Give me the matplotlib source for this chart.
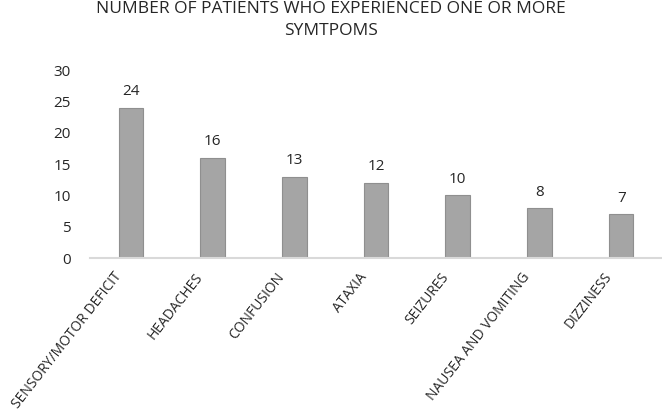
import matplotlib
matplotlib.use('agg')
import matplotlib.pyplot as plt
import matplotlib.transforms as mtransforms

symptoms = ["SENSORY/MOTOR DEFICIT", "HEADACHES", "CONFUSION", "ATAXIA",
            "SEIZURES", "NAUSEA AND VOMITING", "DIZZINESS"]
patients = [24, 16, 13, 12, 10, 8, 7]
yticks = [0, 5, 10, 15, 20, 25, 30]

plt.rcParams['font.family'] = ['Open Sans', 'DejaVu Sans']

fig = plt.figure(figsize=(6.62, 4.15), dpi=100)
ax = fig.add_axes([90 / 662, 157 / 415, 572 / 662, 188 / 415])

x = range(len(symptoms))
bars = ax.bar(x, patients, width=0.3, color='#a5a5a5', edgecolor='#8f8f8f',
              linewidth=0.8, zorder=2)
for xi, v in zip(x, patients):
    ax.annotate(str(v), (xi, v), xytext=(0, 6), textcoords='offset points',
                ha='center', va='bottom', fontsize=11, color='#262626')

ax.set_xlim(-0.5, len(symptoms) - 0.5)
ax.set_ylim(0, 30)
ax.set_yticks(yticks)
ax.tick_params(axis='y', length=0, pad=14, labelsize=11, labelcolor='#262626')
ax.set_xticks(list(x))
ax.set_xticklabels(symptoms, rotation=52, ha='right', va='top',
                   rotation_mode='anchor', fontsize=10, color='#262626')
ax.tick_params(axis='x', length=0, pad=2)
# shift labels left/down so their ends sit like Excel's
offset = mtransforms.ScaledTranslation(-18 / 100, -9 / 100, fig.dpi_scale_trans)
for lab in ax.get_xticklabels():
    lab.set_transform(lab.get_transform() + offset)

for s in ['top', 'right', 'left']:
    ax.spines[s].set_visible(False)
ax.spines['bottom'].set_color('#d9d9d9')
ax.spines['bottom'].set_linewidth(1.5)

fig.text(0.5, 1 - 20 / 415, "NUMBER OF PATIENTS WHO EXPERIENCED ONE OR MORE\nSYMTPOMS",
         ha='center', va='center', fontsize=12.5, color='#262626', linespacing=1.5)

fig.savefig('out.png', dpi=100)
